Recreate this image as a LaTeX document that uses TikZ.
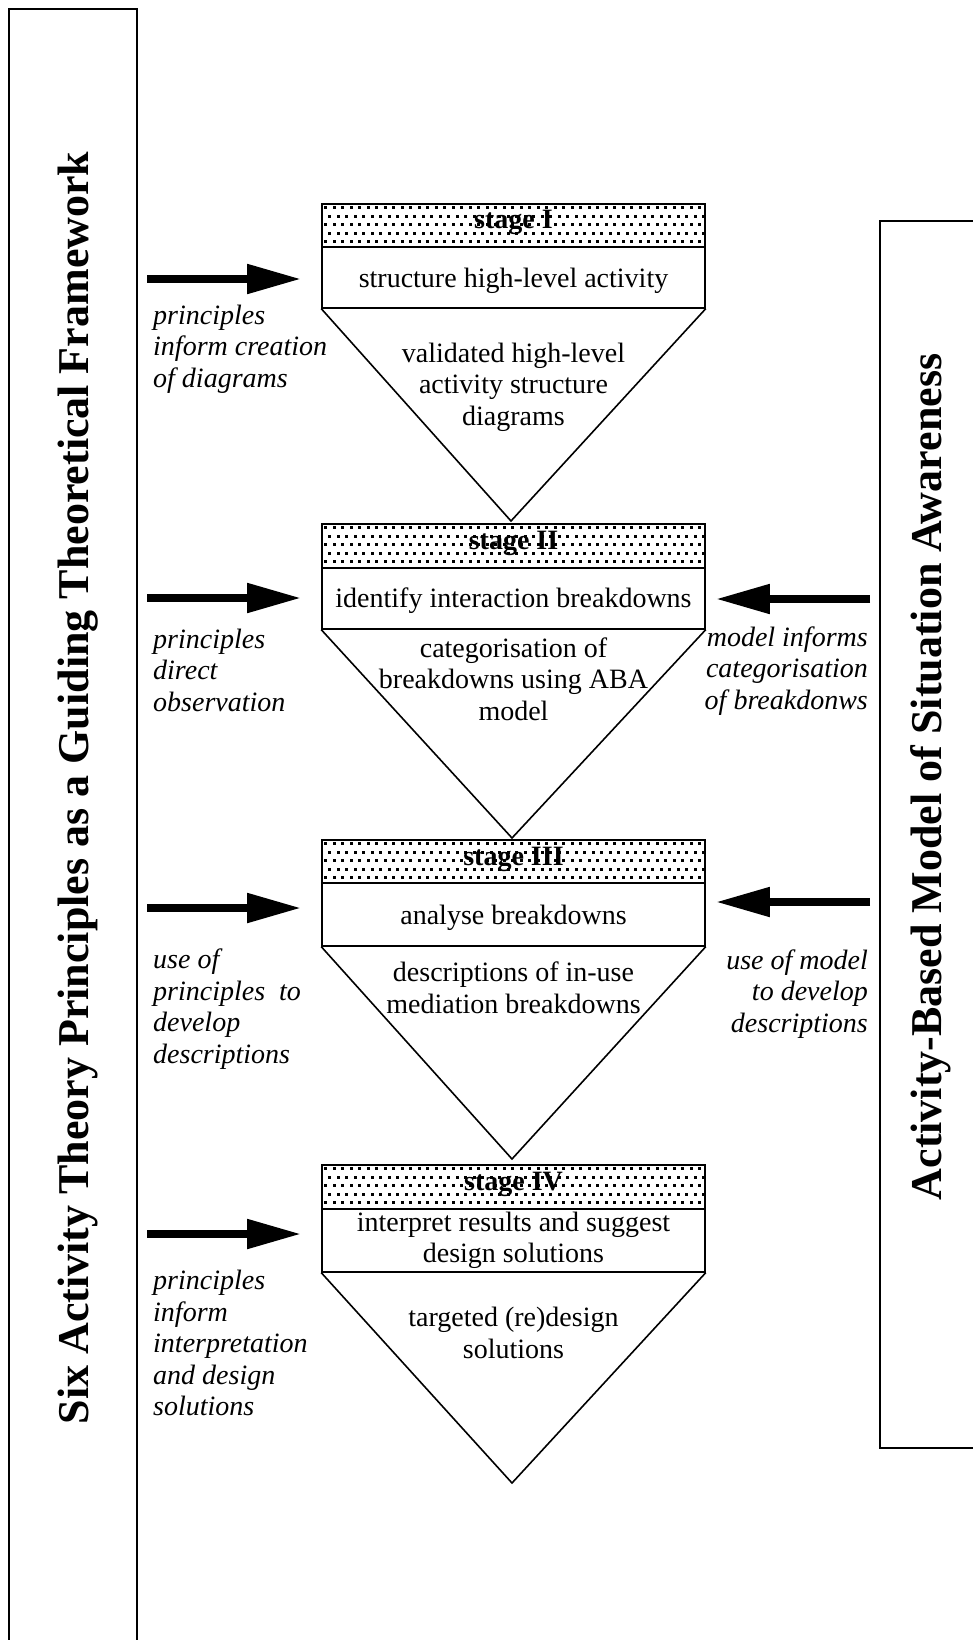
\documentclass[tikz,border=0pt]{standalone}
\usepackage{fontspec}
\setmainfont{Liberation Serif}
\usetikzlibrary{arrows.meta}
\begin{document}
\begin{tikzpicture}[x=1pt,y=-1pt,
  lw/.style={line width=1.6pt},
  bandbox/.style={draw, lw, minimum width=383pt, inner sep=0pt, anchor=north},
  stagebox/.style={draw, lw, minimum width=383pt, inner sep=0pt, anchor=north, align=center, font=\fontsize{28}{31.5}\selectfont},
  stagelabel/.style={inner sep=0pt, anchor=base, font=\bfseries\fontsize{28}{31.5}\selectfont},
  tritext/.style={inner sep=0pt, align=center, font=\fontsize{28}{31.5}\selectfont},
  lefttext/.style={inner sep=0pt, align=left, anchor=west, font=\itshape\fontsize{28}{31.5}\selectfont},
  righttext/.style={inner sep=0pt, align=right, anchor=east, font=\itshape\fontsize{28}{31.5}\selectfont},
  title/.style={inner sep=0pt, rotate=90, font=\bfseries\fontsize{44}{50}\selectfont},
  bigarrow/.style={line width=8pt, -{Triangle[length=54pt,width=28pt]}},
  tri/.style={lw, line join=miter}
]
\useasboundingbox (0,0) rectangle (973,1640);

% side frames
\draw[lw] (9,1660) -- (9,9) -- (137,9) -- (137,1660);
\draw[lw] (990,221) -- (880,221) -- (880,1448) -- (990,1448);
\node[title] (lt) at (78,788) {Six Activity Theory Principles as a Guiding Theoretical Framework};
\node[title] (rt) at (931,777) {Activity-Based Model of Situation Awareness};

% dotted bands
\foreach \top in {203,523,839,1164}{
  \begin{scope}
    \clip (322,\top) rectangle (705,\top+44);
    \foreach \r in {0,...,4}{
      \pgfmathsetmacro{\off}{mod(\r,2)*4.25}
      \foreach \c in {0,...,46}{
        \fill (324+8.5*\c+\off, \top+3+8.5*\r) rectangle +(3.2,3.2);
      }
    }
  \end{scope}
}

% stage I
\node[bandbox, minimum height=43pt] (b1) at (513.5,203) {};
\node[stagelabel] (l1) at (513.5,229) {stage I};
\node[stagebox, minimum height=61pt] (s1) at (513.5,246) {\raisebox{-4pt}[\height][\depth]{structure high-level activity}};
\coordinate (a1) at (511,521);
\draw[tri] (s1.south west) -- (a1) -- (s1.south east);
\node[tritext] (t1) at (513.5,387) {validated high-level\\activity structure\\diagrams};

% stage II
\node[bandbox, minimum height=44pt] (b2) at (513.5,523) {};
\node[stagelabel] (l2) at (513.5,549) {stage II};
\node[stagebox, minimum height=61pt] (s2) at (513.5,567) {\raisebox{-2pt}[\height][\depth]{identify interaction breakdowns}};
\coordinate (a2) at (512,838);
\draw[tri] (s2.south west) -- (a2) -- (s2.south east);
\node[tritext] (t2) at (513.5,679) {categorisation of\\breakdowns using ABA\\model};

% stage III
\node[bandbox, minimum height=43pt] (b3) at (513.5,839) {};
\node[stagelabel] (l3) at (513.5,865) {stage III};
\node[stagebox, minimum height=63pt] (s3) at (513.5,882) {\raisebox{-3pt}[\height][\depth]{analyse breakdowns}};
\coordinate (a3) at (512,1159);
\draw[tri] (s3.south west) -- (a3) -- (s3.south east);
\node[tritext] (t3) at (513.5,988) {descriptions of in-use\\mediation breakdowns};

% stage IV
\node[bandbox, minimum height=44pt] (b4) at (513.5,1164) {};
\node[stagelabel] (l4) at (513.5,1190) {stage IV};
\node[stagebox, minimum height=63pt] (s4) at (513.5,1208) {interpret results and suggest\\design solutions};
\coordinate (a4) at (512,1483);
\draw[tri] (s4.south west) -- (a4) -- (s4.south east);
\node[tritext] (t4) at (513.5,1333) {targeted (re)design\\solutions};

% left arrows
\coordinate (la1) at (147,279);
\coordinate (la2) at (147,598);
\coordinate (la3) at (147,908);
\coordinate (la4) at (147,1234);
\draw[bigarrow, shorten >=20pt] (la1) -- (s1.west |- la1);
\draw[bigarrow, shorten >=20pt] (la2) -- (s2.west |- la2);
\draw[bigarrow, shorten >=20pt] (la3) -- (s3.west |- la3);
\draw[bigarrow, shorten >=20pt] (la4) -- (s4.west |- la4);

% right arrows
\coordinate (ra2) at (870,599);
\coordinate (ra3) at (870,902);
\draw[bigarrow, shorten >=10pt] (ra2) -- (s2.east |- ra2);
\draw[bigarrow, shorten >=10pt] (ra3) -- (s3.east |- ra3);

% left labels
\node[lefttext] (lp1) at (153,349) {principles\\inform creation\\of diagrams};
\node[lefttext] (lp2) at (153,670) {principles\\direct\\observation};
\node[lefttext] (lp3) at (153,1009) {use of\\principles\ \ to\\develop\\descriptions};
\node[lefttext] (lp4) at (153,1343) {principles\\inform\\interpretation\\and design\\solutions};

% right labels
\node[righttext] (rp2) at (868,671) {model informs\\categorisation\\of breakdonws};
\node[righttext] (rp3) at (868,994) {use of model\\to develop\\descriptions};
\end{tikzpicture}
\end{document}
